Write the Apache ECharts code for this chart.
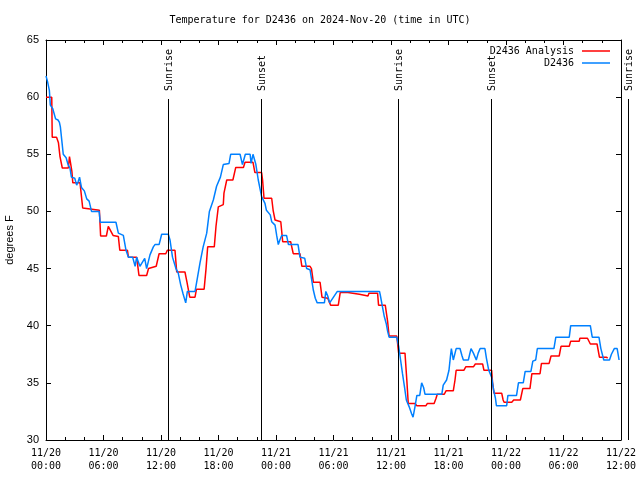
<!DOCTYPE html>
<html>
<head>
<meta charset="utf-8">
<script src="https://cdn.jsdelivr.net/npm/echarts@6/dist/echarts.min.js"></script>
<style>html,body{margin:0;padding:0;background:#fff;}#c{width:640px;height:480px;}</style>
</head>
<body>
<div id="c"></div>
<script>
// ---- data (hours since 2024-11-20 00:00 UTC, degrees F) ----
const xTickLabels = ['11/20\n00:00','11/20\n06:00','11/20\n12:00','11/20\n18:00','11/21\n00:00','11/21\n06:00','11/21\n12:00','11/21\n18:00','11/22\n00:00','11/22\n06:00','11/22\n12:00'];
const yTicks = [30, 35, 40, 45, 50, 55, 60, 65];

const analysisHours = [0,0.6,0.65,1.1,1.3,1.46,1.7,2.33,2.45,2.55,2.7,2.8,3.55,3.83,5.57,5.7,6.3,6.5,7.0,7.55,7.7,8.5,8.6,9.46,9.7,10.5,10.7,11.5,11.8,12.5,12.66,13.46,13.64,14.5,14.7,15.0,15.55,15.7,16.5,16.7,16.87,17.56,17.74,17.98,18.5,18.57,18.86,19.5,19.8,20.6,20.77,21.6,21.8,22.5,22.6,22.75,23.55,23.7,23.9,24.07,24.5,24.7,25.53,25.67,25.8,26.5,26.7,27.55,27.7,27.9,28.6,28.8,29.4,29.7,30.5,30.7,31.5,31.65,32.7,32.8,33.6,33.7,34.6,34.7,35.4,35.65,35.8,36.6,36.8,37.46,37.65,37.8,38.5,38.7,39.65,39.8,40.5,40.7,40.83,41.56,41.74,42.5,42.68,42.8,43.6,43.8,44.6,44.8,45.56,45.7,46.5,46.6,46.75,47.55,47.7,47.8,48.6,48.8,49.5,49.75,50.5,50.7,51.55,51.7,52.5,52.7,53.55,53.74,54.6,54.75,55.65,55.7,56.5,56.8,57.5,57.75,58.5,58.6];
const analysisTemps = [60.0,60.0,56.5,56.5,56.0,54.8,53.8,53.8,54.8,54.3,53.5,52.5,52.5,50.3,50.1,47.85,47.85,48.7,47.9,47.8,46.6,46.6,46.0,46.0,44.4,44.4,45.0,45.2,46.3,46.3,46.6,46.6,44.7,44.7,43.85,42.5,42.5,43.2,43.2,45.0,46.9,46.9,48.7,50.4,50.6,51.6,52.75,52.75,53.85,53.85,54.3,54.3,53.4,53.4,52.75,51.15,51.15,50.1,49.25,49.1,49.1,47.35,47.35,46.8,46.3,46.3,45.2,45.2,45.0,43.8,43.8,42.5,42.4,41.8,41.8,42.9,42.9,42.75,42.75,42.6,42.6,42.85,42.85,41.8,41.8,40.35,39.1,39.1,37.6,37.6,35.25,33.2,33.2,33.0,33.0,33.2,33.2,33.65,34.0,34.0,34.3,34.3,35.25,36.1,36.1,36.4,36.4,36.65,36.65,36.1,36.1,35.0,34.1,34.1,33.5,33.3,33.3,33.5,33.5,34.5,34.5,35.8,35.8,36.7,36.7,37.35,37.35,38.2,38.2,38.65,38.65,38.9,38.9,38.4,38.4,37.25,37.25,37.15];

const obsHours = [0,0.15,0.35,0.45,0.7,1.0,1.25,1.4,1.5,1.65,1.8,2.1,2.3,2.5,2.65,3.0,3.2,3.35,3.5,3.7,4.0,4.25,4.5,4.75,5.55,5.65,7.3,7.55,8.07,8.35,8.6,9.04,9.3,9.46,9.8,10.3,10.5,10.85,11.2,11.37,11.8,12.07,12.76,12.94,13.2,13.56,13.8,14.05,14.3,14.58,14.75,15.55,15.7,16.07,16.4,16.77,17.05,17.46,17.8,18.2,18.5,19.1,19.27,20.25,20.5,20.8,21.3,21.4,21.6,21.9,22.15,22.5,22.6,22.85,23.0,23.4,23.55,23.9,24.07,24.24,24.4,24.6,25.1,25.3,26.3,26.5,27.0,27.2,27.55,27.7,27.9,28.1,28.3,29.05,29.2,29.4,29.6,30.0,30.4,34.8,34.9,35.1,35.3,35.5,35.65,35.8,36.6,36.8,37.0,37.2,37.4,37.6,37.9,38.15,38.3,38.5,38.7,39.0,39.2,39.4,39.55,41.3,41.45,41.8,42.05,42.2,42.3,42.5,42.8,43.2,43.4,43.55,44.07,44.35,44.6,44.9,45.1,45.3,45.8,45.96,46.2,46.5,46.7,46.9,47.0,48.07,48.2,49.1,49.3,49.8,50.0,50.6,50.8,51.1,51.27,53.0,53.2,54.6,54.75,56.8,57.0,57.7,57.9,58.2,58.8,59.0,59.3,59.6,59.8];
const obsTemps = [61.85,61.4,60.6,59.3,59.0,58.1,58.0,57.8,57.4,56.2,55.0,54.7,54.1,53.8,53.0,52.9,52.3,52.6,53.0,52.1,51.8,51.1,50.9,50.0,50.0,49.05,49.05,48.1,47.9,46.6,46.0,46.0,45.2,46.0,45.2,45.9,45.0,46.2,46.9,47.1,47.1,48.0,48.0,47.5,46.0,45.0,44.6,43.6,42.8,42.0,43.0,43.0,43.7,45.5,46.9,48.1,50.0,51.0,52.2,53.0,54.1,54.2,55.0,55.0,54.1,55.0,55.0,54.2,55.0,54.1,52.75,51.3,51.2,50.7,50.1,49.7,49.1,48.8,47.9,47.1,47.5,47.9,47.9,47.1,47.1,46.0,45.9,45.0,44.9,44.15,43.1,42.4,42.0,42.0,43.0,42.6,42.0,42.5,43.0,43.0,42.6,41.7,40.8,40.2,39.5,39.0,39.0,38.2,37.0,35.8,34.7,33.5,32.9,32.3,32.0,32.9,33.9,33.9,35.0,34.6,34.0,34.0,34.8,35.25,36.1,37.3,38.0,37.0,38.0,38.0,37.4,37.0,37.0,38.0,37.6,37.0,37.6,38.0,38.0,37.15,36.1,35.5,34.4,33.65,33.0,33.0,33.9,33.9,35.0,35.0,36.0,36.0,36.9,37.0,38.0,38.0,39.0,39.0,40.0,40.0,39.0,39.0,38.0,37.0,37.0,37.5,38.0,38.0,37.0];

const sunEventNames = ['Sunrise','Sunset','Sunrise','Sunset','Sunrise'];
const sunEventHours = [12.7, 22.43, 36.75, 46.45, 60.75];
const sunLineTopTemp = 59.8;
const sunLabelBaseTemp = 60.5;

// ---- chart ----
const MONO = '"DejaVu Sans Mono", "Liberation Mono", monospace';
const SANS = '"Liberation Sans", Arial, sans-serif';
const zip = (a, b) => a.map((v, i) => [v, b[i]]);

const chart = echarts.init(document.getElementById('c'), null, {renderer: 'canvas'});
const tickX = {
  type: 'value', min: 0, max: 60, interval: 6,
  axisLine: {show: true, onZero: false, lineStyle: {color: '#000', width: 1}},
  axisTick: {show: true, inside: true, length: 5, lineStyle: {color: '#000'}},
  minorTick: {show: true, splitNumber: 3, length: 3, lineStyle: {color: '#000'}},
  splitLine: {show: false}, minorSplitLine: {show: false}
};
const tickY = {
  type: 'value', min: 30, max: 65, interval: 5,
  axisLine: {show: true, onZero: false, lineStyle: {color: '#000', width: 1}},
  axisTick: {show: true, inside: true, length: 5, lineStyle: {color: '#000'}},
  splitLine: {show: false}
};

chart.setOption({
  animation: false,
  backgroundColor: '#fff',
  title: {
    text: 'Temperature for D2436 on 2024-Nov-20 (time in UTC)',
    left: 'center', top: 15, padding: [0, 0, 0, 27],
    textStyle: {fontFamily: MONO, fontSize: 10, fontWeight: 'normal', color: '#000'}
  },
  legend: [
    {data: ['D2436 Analysis'], right: 30, top: 46, padding: 0, orient: 'vertical', align: 'right',
     itemWidth: 28, itemHeight: 1.5, icon: 'rect', selectedMode: false,
     textStyle: {fontFamily: MONO, fontSize: 10, color: '#000', padding: [0, 3, 0, 0]}},
    {data: ['D2436'], right: 30, top: 58, padding: 0, orient: 'vertical', align: 'right',
     itemWidth: 28, itemHeight: 1.5, icon: 'rect', selectedMode: false,
     textStyle: {fontFamily: MONO, fontSize: 10, color: '#000', padding: [0, 3, 0, 0]}}
  ],
  grid: {left: 46, right: 19, top: 40, bottom: 40, containLabel: false, outerBoundsMode: 'none'},
  xAxis: [
    Object.assign({}, tickX, {position: 'bottom',
      axisLabel: {show: true, margin: 7, showMinLabel: true, showMaxLabel: true,
        fontFamily: MONO, fontSize: 10, lineHeight: 13, color: '#000',
        formatter: v => xTickLabels[Math.round(v / 6)]}}),
    Object.assign({}, tickX, {position: 'top', axisLabel: {show: false}})
  ],
  yAxis: [
    Object.assign({}, tickY, {position: 'left', name: 'degrees F', nameLocation: 'middle', nameGap: 31, nameRotate: 90,
      nameTextStyle: {fontFamily: SANS, fontSize: 11, color: '#000'},
      axisLabel: {show: true, margin: 7, fontFamily: SANS, fontSize: 11, color: '#000',
        formatter: v => String(yTicks[yTicks.indexOf(v)])}}),
    Object.assign({}, tickY, {position: 'right', axisLabel: {show: false}})
  ],
  series: [
    {name: 'D2436 Analysis', type: 'line', data: zip(analysisHours, analysisTemps), showSymbol: false,
     color: '#ff0000', lineStyle: {color: '#ff0000', width: 1.5}, xAxisIndex: 0, yAxisIndex: 0, z: 2},
    {name: 'D2436', type: 'line', data: zip(obsHours, obsTemps), showSymbol: false,
     color: '#0080ff', lineStyle: {color: '#0080ff', width: 1.5}, xAxisIndex: 0, yAxisIndex: 0, z: 3}
  ]
});

// sunrise / sunset markers placed through the axis scales
const graphics = [];
sunEventHours.forEach((h, i) => {
  const bottom = chart.convertToPixel({xAxisIndex: 0, yAxisIndex: 0}, [h, 30]);
  const top = chart.convertToPixel({xAxisIndex: 0, yAxisIndex: 0}, [h, sunLineTopTemp]);
  const lab = chart.convertToPixel({xAxisIndex: 0, yAxisIndex: 0}, [h, sunLabelBaseTemp]);
  const x = Math.round(bottom[0]) + 0.5;
  graphics.push({type: 'line', silent: true, z: 10,
    shape: {x1: x, y1: Math.round(bottom[1]), x2: x, y2: Math.round(top[1])},
    style: {stroke: '#000', lineWidth: 1}});
  graphics.push({type: 'text', silent: true, z: 10, x: x + 1, y: Math.round(lab[1]), rotation: Math.PI / 2,
    style: {text: sunEventNames[i], font: '10px ' + MONO, fill: '#000', align: 'left', verticalAlign: 'middle'}});
});
chart.setOption({graphic: graphics});
</script>
</body>
</html>
